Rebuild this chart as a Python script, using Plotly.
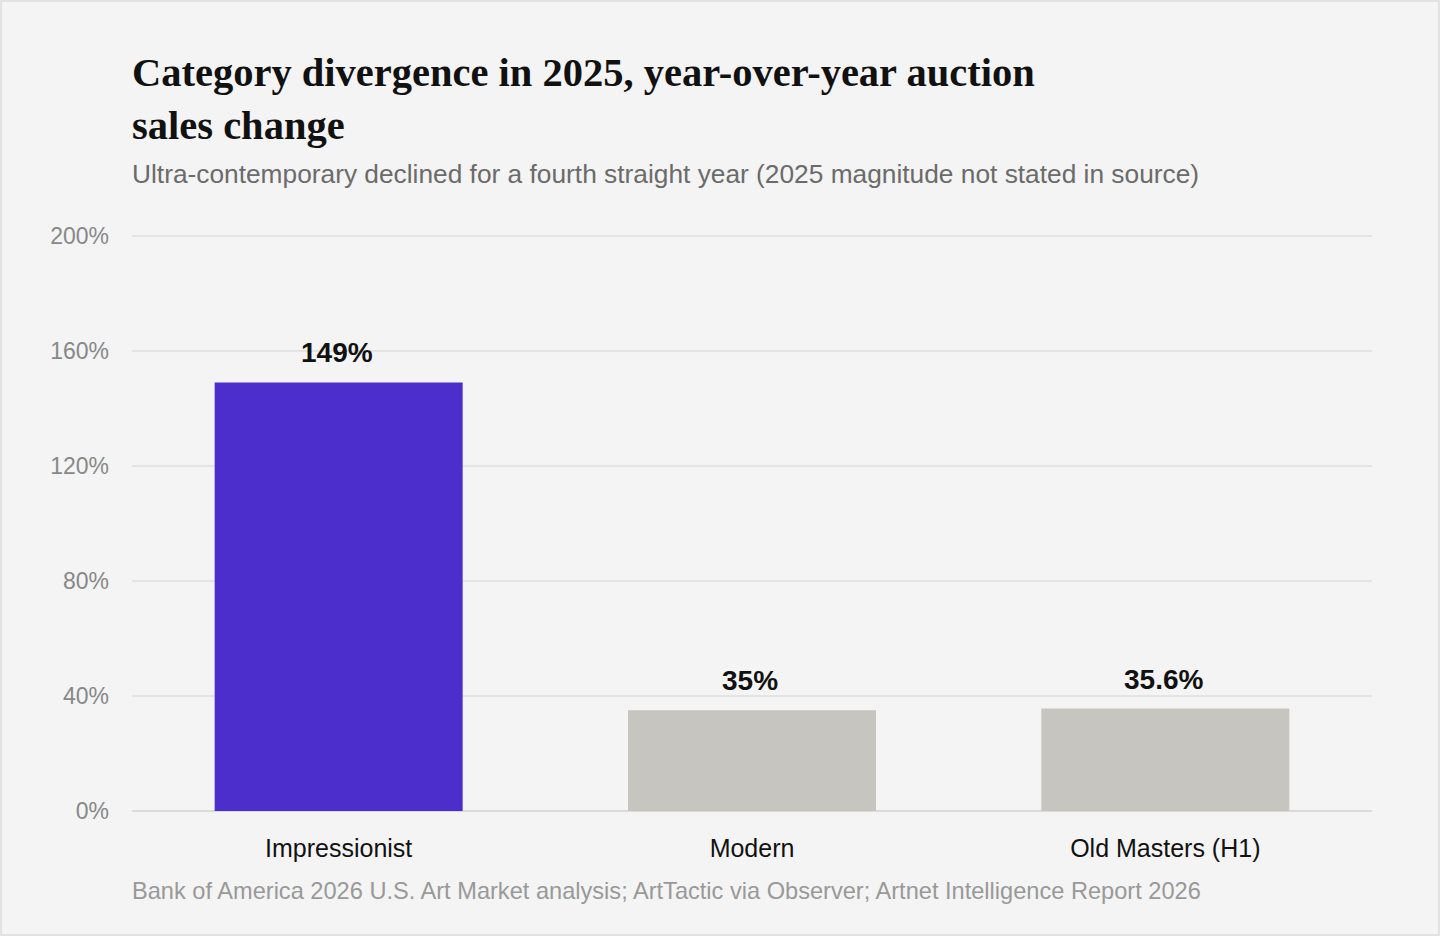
import plotly.graph_objects as go

# chart data
categories = ["Impressionist", "Modern", "Old Masters (H1)"]
yoy_change = [149, 35, 35.6]
value_labels = ["149%", "35%", "35.6%"]
bar_colors = ["#4B2ECC", "#C6C5C0", "#C6C5C0"]
y_ticks = [0, 40, 80, 120, 160, 200]
y_tick_text = [str(t) + "%" for t in y_ticks]

TITLE = "Category divergence in 2025, year-over-year auction<br>sales change"
SUBTITLE = "Ultra-contemporary declined for a fourth straight year (2025 magnitude not stated in source)"
SOURCE = "Bank of America 2026 U.S. Art Market analysis; ArtTactic via Observer; Artnet Intelligence Report 2026"

W, H = 1440, 936
L, R, T, B = 132, 68, 234, 125
pw, ph = W - L - R, H - T - B

# pixel -> paper helpers for the text placed outside the plot area
def px(x):
	return (x - L) / pw

def py(y):
	return (H - B - y) / ph

fig = go.Figure(go.Bar(
	x=categories, y=yoy_change,
	marker=dict(color=bar_colors, line=dict(width=0)),
	width=0.6, hoverinfo="skip"))

# value labels above bars
for cat, val, lab in zip(categories, yoy_change, value_labels):
	fig.add_annotation(x=cat, y=val, text="<b>" + lab + "</b>", showarrow=False,
		yanchor="bottom", yshift=12, xshift=-2, font=dict(family="Liberation Sans, Arial", size=28, color="#111111"))

fig.add_annotation(xref="paper", yref="paper", x=0, y=py(48), xanchor="left", yanchor="top", xshift=-2,
	text="<b>" + TITLE + "</b>", align="left", showarrow=False,
	font=dict(family="Liberation Serif, Times New Roman, serif", size=40.5, color="#111111"))
fig.add_annotation(xref="paper", yref="paper", x=0, y=py(157), xanchor="left", yanchor="top", xshift=-2,
	text=SUBTITLE, align="left", showarrow=False,
	font=dict(family="Liberation Sans, Arial", size=26.3, color="#6b6b6b"))
fig.add_annotation(xref="paper", yref="paper", x=0, y=py(876), xanchor="left", yanchor="top", xshift=-2,
	text=SOURCE, align="left", showarrow=False,
	font=dict(family="Liberation Sans, Arial", size=23.6, color="#999999"))

# card outline
fig.add_shape(type="rect", xref="paper", yref="paper",
	x0=px(1), x1=px(W - 1), y0=py(H - 1), y1=py(1),
	line=dict(color="#e2e2e2", width=2), fillcolor="rgba(0,0,0,0)", layer="below")

fig.update_layout(
	width=W, height=H,
	margin=dict(l=L, r=R, t=T, b=B),
	paper_bgcolor="#f4f4f4", plot_bgcolor="#f4f4f4",
	showlegend=False, bargap=0.4,
	font=dict(family="Liberation Sans, Arial", color="#111111"))
fig.update_xaxes(showgrid=False, showline=False, ticks="", ticklabelstandoff=20,
	tickfont=dict(size=25, color="#111111"))
fig.update_yaxes(range=[0, 200.6], tickvals=y_ticks, ticktext=y_tick_text, showgrid=True,
	gridcolor="#e4e4e4", gridwidth=1.5, zeroline=True, zerolinecolor="#dadada", zerolinewidth=2,
	showline=False, ticks="", ticklabelstandoff=22,
	tickfont=dict(size=23, color="#888888"))

fig.write_html("out.html", config={"displayModeBar": False},
	post_script="document.body.style.margin='0';")
